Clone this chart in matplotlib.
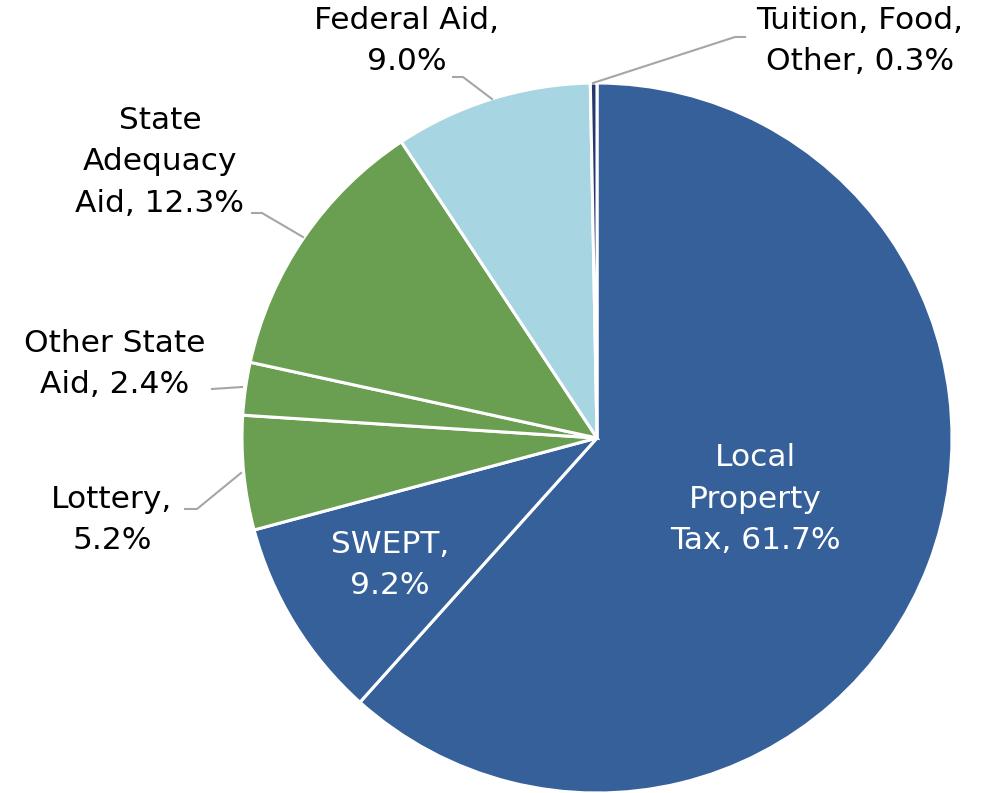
"""
Pie chart of school revenue sources.
"""
import matplotlib
matplotlib.use("Agg")
import matplotlib.pyplot as plt

categories = [
    "Local Property Tax",
    "SWEPT",
    "Lottery",
    "Other State Aid",
    "State Adequacy Aid",
    "Federal Aid",
    "Tuition, Food, Other",
]
shares = [61.7, 9.2, 5.2, 2.4, 12.3, 9.0, 0.3]
labels = [
    "Local\nProperty\nTax, 61.7%",
    "SWEPT,\n9.2%",
    "Lottery,\n5.2%",
    "Other State\nAid, 2.4%",
    "State\nAdequacy\nAid, 12.3%",
    "Federal Aid,\n9.0%",
    "Tuition, Food,\nOther, 0.3%",
]
colors = ["#35609A", "#35609A", "#6A9E50", "#6A9E50", "#6A9E50", "#A7D5E2", "#26386B"]

W, H = 982, 793


def py(y):
    # pixel row (from top) -> data y
    return H - y


fig = plt.figure(figsize=(W / 100, H / 100), dpi=100)
ax = fig.add_axes([0, 0, 1, 1])

ax.pie(
    shares,
    colors=colors,
    startangle=90,
    counterclock=False,
    center=(597, py(438)),
    radius=355,
    wedgeprops={"edgecolor": "white", "linewidth": 2.2},
)
ax.set_xlim(0, W)
ax.set_ylim(0, H)
ax.set_aspect("equal")
ax.axis("off")

# label positions (block centers, pixels) and text colours
label_pos = [(755, 499), (390, 565), (112, 520), (115, 364), (160, 162), (407, 41), (860, 41)]
label_col = ["white", "white", "black", "black", "black", "black", "black"]
for text, (x, y), c in zip(labels, label_pos, label_col):
    ax.text(x, py(y), text, ha="center", va="center", color=c,
            fontsize=22.5, linespacing=1.53, family="DejaVu Sans")

# leader lines
leaders = [
    [(185, 509), (197, 509), (241, 473)],
    [(212, 389), (242, 387)],
    [(252, 213), (262, 213), (303, 237)],
    [(453, 77), (463, 77), (492, 99)],
    [(593, 83), (735, 37), (745, 37)],
]
for pts in leaders:
    ax.plot([p[0] for p in pts], [py(p[1]) for p in pts], color="#A6A6A6", lw=1.5)

fig.savefig("out.png", dpi=100)
plt.close(fig)
